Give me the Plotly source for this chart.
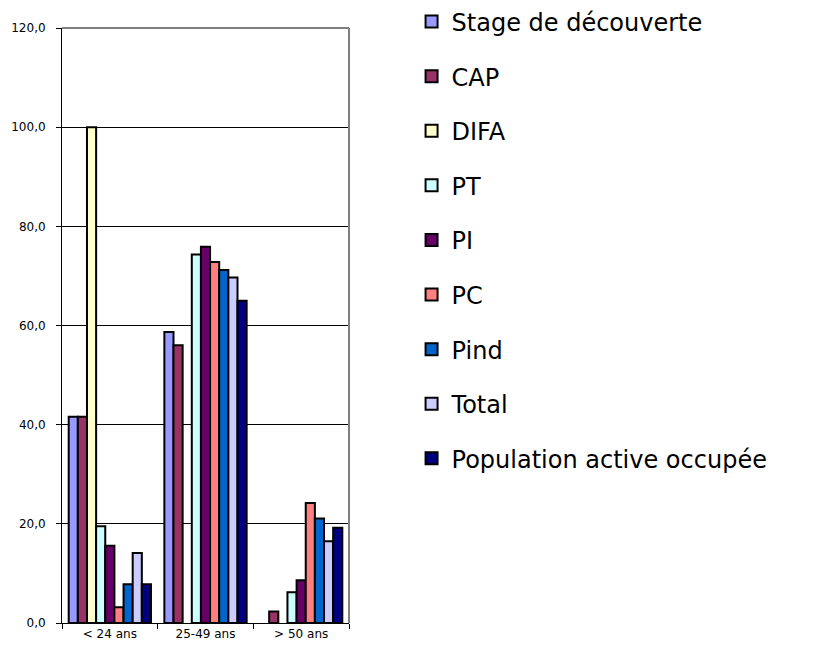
import plotly.graph_objects as go

categories = ["< 24 ans", "25-49 ans", "> 50 ans"]

series_names = ["Stage de découverte", "CAP", "DIFA", "PT", "PI", "PC", "Pind", "Total",
                "Population active occupée"]

stage = [41.6, 58.7, None]
cap = [41.6, 56.0, 2.3]
difa = [100.0, None, None]
pt = [19.5, 74.3, 6.2]
pi = [15.6, 75.9, 8.6]
pc = [3.2, 72.8, 24.2]
pind = [7.8, 71.2, 21.1]
total = [14.1, 69.7, 16.5]
pop = [7.8, 65.0, 19.2]

series_values = [stage, cap, difa, pt, pi, pc, pind, total, pop]

colors = ["#9999FF", "#993366", "#FFFFCC", "#CCFFFF", "#660066", "#FF8080", "#0066CC",
          "#CCCCFF", "#000080"]

y_ticks = [0, 20, 40, 60, 80, 100, 120]
y_tick_labels = ["0,0", "20,0", "40,0", "60,0", "80,0", "100,0", "120,0"]

fig = go.Figure()
for i, (name, vals, col) in enumerate(zip(series_names, series_values, colors)):
    fig.add_trace(go.Bar(
        x=categories, y=vals, name=name, legendgroup=f"g{i}",
        marker=dict(color=col, line=dict(color="black", width=2)),
    ))

# page body has an 8px margin, so the figure is 8px smaller on each axis
fig.update_layout(
    width=808, height=640,
    paper_bgcolor="white", plot_bgcolor="white",
    margin=dict(l=54, r=467, t=20, b=25, pad=0, autoexpand=False),
    barmode="group", bargap=0.14, bargroupgap=0,
    font=dict(family="Liberation Sans, Arial", color="black"),
    legend=dict(
        x=1.218, xanchor="left", y=1.048, yanchor="top",
        font=dict(size=24, family="DejaVu Sans", color="black"),
        tracegroupgap=20.4, itemwidth=30, maxheight=1,
        bgcolor="rgba(0,0,0,0)",
    ),
    showlegend=True,
)

fig.update_yaxes(
    range=[0, 120], tickvals=y_ticks, ticktext=y_tick_labels,
    showgrid=True, gridcolor="black", gridwidth=1,
    showline=True, linecolor="black", linewidth=1,
    ticks="outside", ticklen=5, tickcolor="black", ticklabelstandoff=8,
    tickfont=dict(size=12, family="DejaVu Sans", color="black"),
    zeroline=False, fixedrange=True, automargin=False,
)
fig.update_xaxes(
    showline=True, linecolor="black", linewidth=1,
    ticks="outside", ticklen=5, tickcolor="black", tickson="boundaries",
    tickfont=dict(size=12, family="DejaVu Sans", color="black"),
    showgrid=False, fixedrange=True, automargin=False,
)

fig.add_shape(type="line", xref="paper", yref="paper", x0=0, x1=1, y0=1, y1=1,
              line=dict(color="#808080", width=2))
fig.add_shape(type="line", xref="paper", yref="paper", x0=1, x1=1, y0=0, y1=1,
              line=dict(color="#808080", width=2))

fig.write_html("out.html")
